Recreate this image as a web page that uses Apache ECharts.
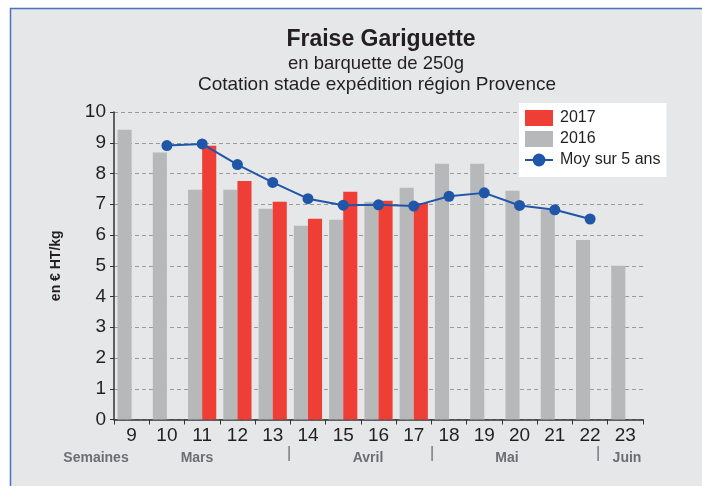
<!DOCTYPE html>
<html><head><meta charset="utf-8">
<script src="https://cdn.jsdelivr.net/npm/echarts@6/dist/echarts.min.js"></script>
<style>html,body{margin:0;padding:0;background:#fff}#c{width:702px;height:486px}</style>
</head><body><div id="c"></div>
<script>
const weeks = ['9','10','11','12','13','14','15','16','17','18','19','20','21','22','23'];
const v2016 = [9.42, 8.68, 7.47, 7.47, 6.85, 6.30, 6.50, 7.08, 7.54, 8.32, 8.32, 7.44, 6.82, 5.84, 5.00];
const v2017 = [null, null, 8.90, 7.76, 7.08, 6.53, 7.41, 7.11, 7.04, null, null, null, null, null, null];
const moy5 = [null, 8.91, 8.96, 8.29, 7.71, 7.18, 6.97, 6.98, 6.94, 7.26, 7.37, 6.96, 6.82, 6.52, null];
const yTicks = [0,1,2,3,4,5,6,7,8,9,10];
const months = [['Semaines',96],['Mars',197],['Avril',368],['Mai',507],['Juin',627]];
const seps = [289, 432, 598];

const AR = '"Liberation Sans", Arial, sans-serif';
const chart = echarts.init(document.getElementById('c'), null, {renderer:'canvas'});
const graphics = [
  {type:'rect', z:-10, silent:true, shape:{x:10.5, y:8.5, width:800, height:600},
   style:{fill:'#e6e7e9', stroke:'#4a72bd', lineWidth:1.5}},
  {type:'text', x:381, y:40, style:{text:'Fraise Gariguette', font:'bold 23px '+AR, fill:'#231f20', align:'center', verticalAlign:'middle'}},
  {type:'text', x:376, y:64, style:{text:'en barquette de 250g', font:'18.5px '+AR, fill:'#231f20', align:'center', verticalAlign:'middle'}},
  {type:'text', x:377, y:85, style:{text:'Cotation stade expédition région Provence', font:'19px '+AR, fill:'#231f20', align:'center', verticalAlign:'middle'}}
];
months.forEach(m => graphics.push({type:'text', x:m[1], y:458, style:{text:m[0], font:'bold 14px '+AR, fill:'#6d6e71', align:'center', verticalAlign:'middle'}}));
seps.forEach(x => graphics.push({type:'text', x:x, y:454, style:{text:'|', font:'16px '+AR, fill:'#6d6e71', align:'center', verticalAlign:'middle'}}));

chart.setOption({
  animation:false,
  backgroundColor:'#ffffff',
  graphic: graphics,
  grid:{left:114, right:59, top:112, bottom:66.5},
  legend:{
    data:[{name:'2017', icon:'rect'}, {name:'2016', icon:'rect'}, {name:'Moy sur 5 ans'}],
    orient:'vertical', left:519, top:103, padding:[7,6,9,5],
    backgroundColor:'#ffffff', itemWidth:28, itemHeight:16, itemGap:5,
    textStyle:{fontFamily:AR, fontSize:16, color:'#231f20', padding:[0,0,0,2]}
  },
  xAxis:{
    type:'category', data:weeks, boundaryGap:true,
    axisLine:{lineStyle:{color:'#333333', width:1.5}},
    axisTick:{show:true, length:5, lineStyle:{color:'#333333'}},
    axisLabel:{fontFamily:AR, fontSize:19, color:'#231f20', margin:7}
  },
  yAxis:{
    type:'value', min:0, max:10, interval:1,
    name:'en € HT/kg', nameLocation:'middle', nameRotate:90, nameGap:51,
    nameTextStyle:{fontFamily:AR, fontSize:14, fontWeight:'bold', color:'#231f20'},
    axisLine:{show:true, lineStyle:{color:'#333333', width:1.5}},
    axisTick:{show:true, length:4, lineStyle:{color:'#333333'}},
    axisLabel:{fontFamily:AR, fontSize:19, color:'#231f20', margin:8,
      formatter: v => yTicks.indexOf(v) >= 0 ? String(v) : ''},
    splitLine:{show:true, lineStyle:{color:'#9a9a9a', type:[4,3], width:1}}
  },
  series:[
    {name:'2016', type:'bar', data:v2016, itemStyle:{color:'#b7b8ba'}, barGap:'0%', barCategoryGap:'20%'},
    {name:'2017', type:'bar', data:v2017, itemStyle:{color:'#ef3e36'}, barGap:'0%', barCategoryGap:'20%'},
    {name:'Moy sur 5 ans', type:'line', data:moy5, symbol:'circle', symbolSize:11,
     lineStyle:{color:'#1f56a8', width:2}, itemStyle:{color:'#1f56a8'}, z:5}
  ]
});
</script></body></html>
